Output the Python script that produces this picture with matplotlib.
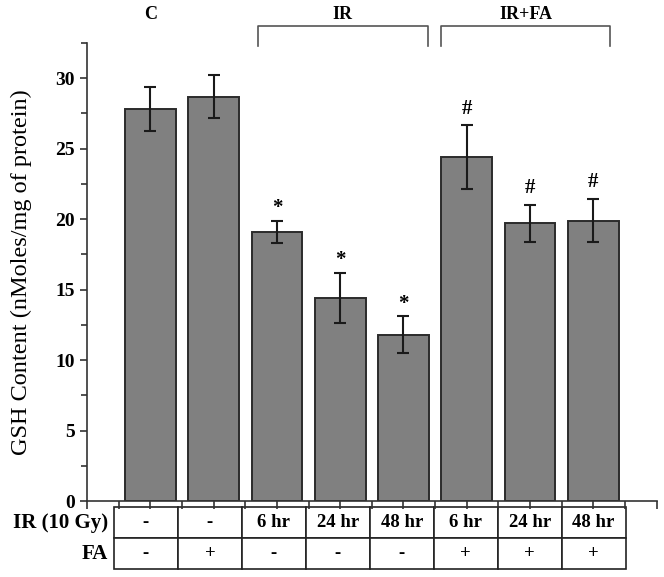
import numpy as np
import matplotlib
matplotlib.use("Agg")
import matplotlib.pyplot as plt
from matplotlib.ticker import MultipleLocator

plt.rcParams["font.family"] = ["Liberation Serif", "DejaVu Serif"]

# GSH content per treatment (mean +/- error)
gsh_mean = [27.8, 28.7, 19.1, 14.4, 11.8, 24.4, 19.7, 19.9]
gsh_err = [1.55, 1.5, 0.8, 1.8, 1.3, 2.25, 1.3, 1.55]
sig_marks = ["", "", "*", "*", "*", "#", "#", "#"]

ir_labels = ["-", "-", "6 hr", "24 hr", "48 hr", "6 hr", "24 hr", "48 hr"]
fa_labels = ["-", "+", "-", "-", "-", "+", "+", "+"]
row_labels = ["IR (10 Gy)", "FA"]

group_names = ["C", "IR", "IR+FA"]
group_spans = [(0, 0), (1.7, 4.38), (4.59, 7.27)]

fig = plt.figure(figsize=(6.64, 5.77), dpi=100)
ax = fig.add_axes([0.131, 0.1317, 0.858, 0.7938])

x = np.arange(len(gsh_mean))
ax.bar(x, gsh_mean, width=0.8, color="#808080", edgecolor="#2b2b2b", linewidth=1.4, zorder=2)
ax.errorbar(x, gsh_mean, yerr=gsh_err, fmt="none", ecolor="#1a1a1a",
            elinewidth=1.5, capsize=4, capthick=1.5, zorder=3)

for xi, m, e, s in zip(x, gsh_mean, gsh_err, sig_marks):
    if s:
        dy = 9 if s == "*" else 12
        ax.annotate(s, (xi, m + e), xytext=(0, dy), textcoords="offset points",
                    ha="center", va="center", fontsize=15, fontweight="bold")

ax.set_xlim(-1, 8)
ax.set_ylim(0, 32.5)
ax.spines["top"].set_visible(False)
ax.spines["right"].set_visible(False)
for sp in ("left", "bottom"):
    ax.spines[sp].set_linewidth(1.2)
    ax.spines[sp].set_color("#333333")

ax.yaxis.set_major_locator(MultipleLocator(5))
ax.yaxis.set_minor_locator(MultipleLocator(2.5))
ax.tick_params(axis="y", which="major", direction="out", length=5, width=1.2,
               labelsize=14, colors="#333333", labelcolor="black")
ax.tick_params(axis="y", which="minor", direction="out", length=4, width=1.2, colors="#333333")
for lbl in ax.get_yticklabels():
    lbl.set_fontweight("bold")

ax.set_xticks(np.arange(-1, 8.01, 0.5))
ax.set_xticklabels([])
ax.tick_params(axis="x", direction="out", length=6, width=1.2, colors="#333333")

ax.set_ylabel("GSH Content (nMoles/mg of protein)", fontsize=17.5)
ax.yaxis.set_label_coords(-0.097, 0.5)

# group labels and brackets above the bars
trans = ax.get_xaxis_transform()
for name, (a, b) in zip(group_names, group_spans):
    if a != b:
        ax.plot([a, a, b, b], [0.993, 1.037, 1.037, 0.993], color="#555555",
                linewidth=1.2, transform=trans, clip_on=False)
    ax.text((a + b) / 2, 1.063, name, transform=trans, ha="center", va="center",
            fontsize=13, fontweight="bold")

# treatment table under the axis
tbl = ax.table(cellText=[ir_labels, fa_labels], cellLoc="center",
               bbox=[0.0474, -0.1485, 0.898, 0.1354])
tbl.auto_set_font_size(False)
tbl.set_fontsize(13.5)
for cell in tbl.get_celld().values():
    cell.set_linewidth(1.2)
    cell.set_edgecolor("#222222")
    cell.get_text().set_fontweight("bold")

for lbl, yy in zip(row_labels, [-0.048, -0.1157]):
    ax.text(0.0368, yy, lbl, transform=ax.transAxes, ha="right", va="center",
            fontsize=15, fontweight="bold")

fig.savefig("out.png", dpi=100)
